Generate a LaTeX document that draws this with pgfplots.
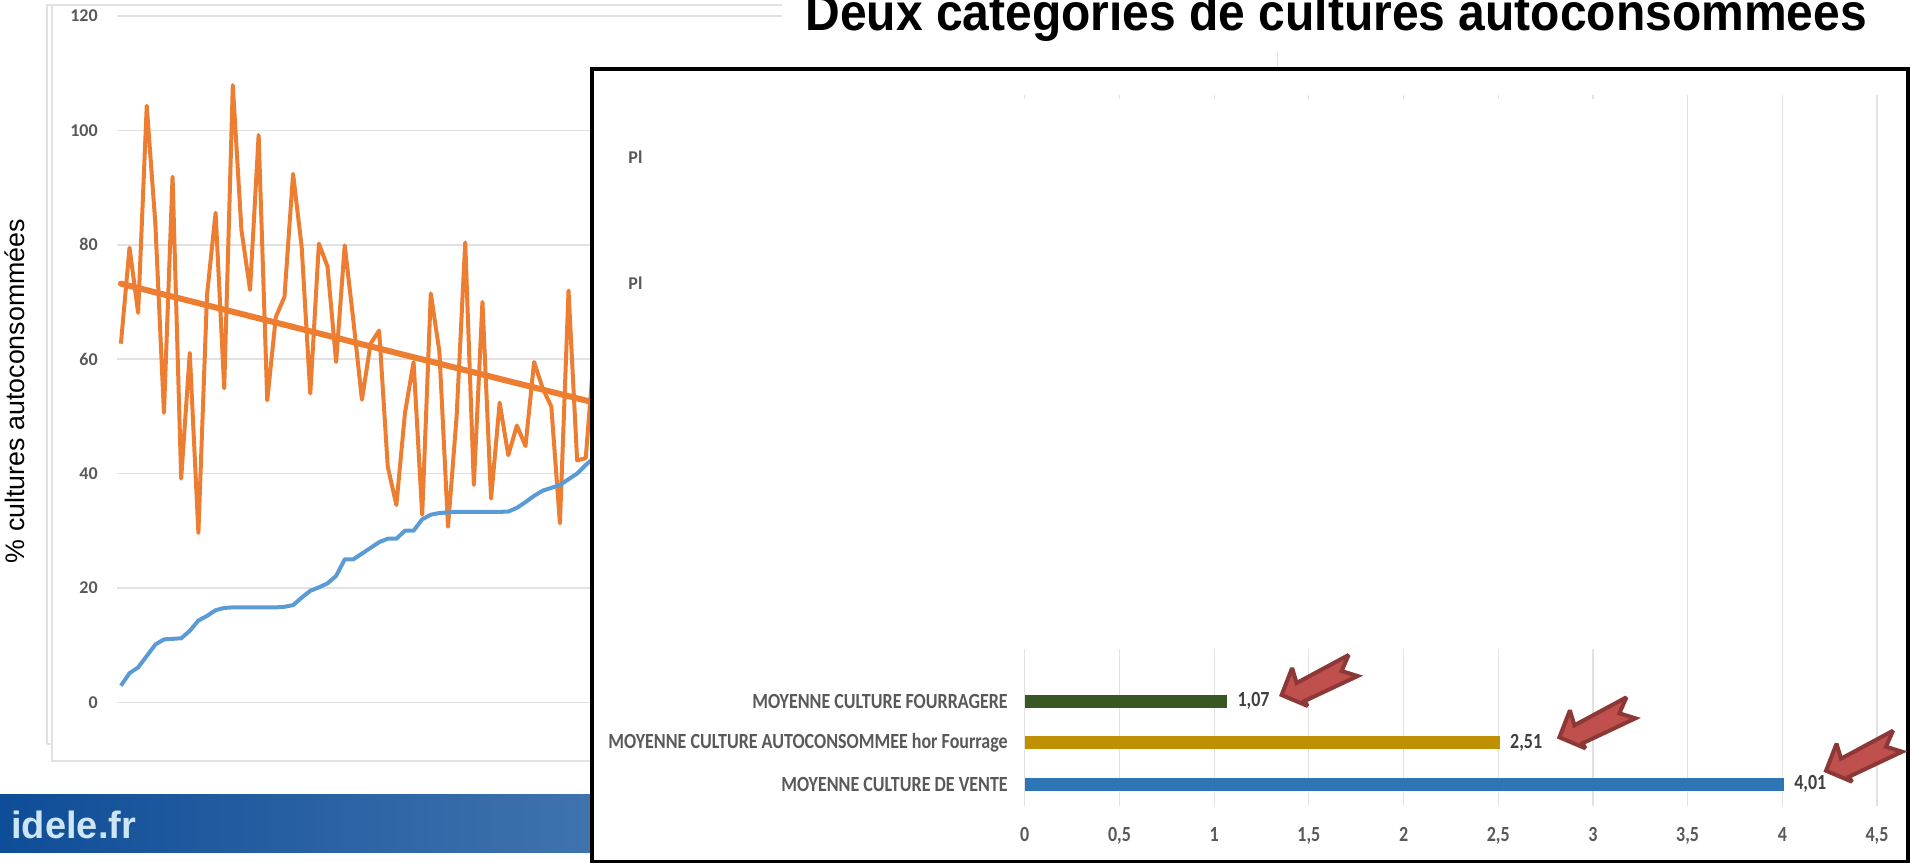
\documentclass[border=0pt]{standalone}
\usepackage{pgfplots}
\pgfplotsset{compat=1.18}
\usepackage{pgfplotstable}
\usepackage{fontspec}
\setmainfont{Liberation Sans}
\newfontfamily\carlito{Carlito}
\definecolor{gridc}{HTML}{E2E2E2}
\definecolor{txt}{HTML}{595959}
\definecolor{oran}{HTML}{ED7D31}
\definecolor{blu}{HTML}{5B9BD5}
\pgfplotstableread{
i v
0 62.7
1 79.5
2 68.1
3 104.3
4 83.7
5 50.6
6 91.9
7 39.1
8 61.1
9 29.6
10 71.2
11 85.6
12 54.9
13 107.9
14 82.6
15 72.1
16 99.2
17 52.8
18 67.4
19 70.9
20 92.4
21 79.6
22 54
23 80.2
24 76.2
25 59.5
26 79.9
27 66.8
28 52.9
29 62.7
30 65
31 41.2
32 34.5
33 50.6
34 59.5
35 32.8
36 71.5
37 61.3
38 30.7
39 50
40 80.4
41 38
42 70
43 35.6
44 52.4
45 43.2
46 48.4
47 44.8
48 59.5
49 54.9
50 51.7
51 31.3
52 72
53 42.3
54 42.7
55 62
}\orangedata
\pgfplotstableread{
i v
0 2.9
1 5.1
2 6.1
3 8.1
4 10.1
5 11
6 11.1
7 11.2
8 12.5
9 14.3
10 15.1
11 16.1
12 16.5
13 16.6
14 16.6
15 16.6
16 16.6
17 16.6
18 16.6
19 16.7
20 17
21 18.3
22 19.5
23 20.1
24 20.8
25 22.1
26 25
27 25
28 26
29 27
30 28
31 28.6
32 28.6
33 30
34 30
35 32
36 32.8
37 33.1
38 33.2
39 33.3
40 33.3
41 33.3
42 33.3
43 33.3
44 33.3
45 33.35
46 34
47 35
48 36.1
49 37
50 37.5
51 38
52 39
53 40
54 41.5
55 42.8
}\bluedata
\newcommand\ArrowAt[2]{%
  \filldraw[shift={(#1,#2)},fill={rgb,255:red,192;green,80;blue,77},
    draw={rgb,255:red,140;green,56;blue,54},line width=2pt,miter limit=3]
  (3,-1) -- (13.5,-28) -- (18,-13) -- (70,-41) -- (63,-25) -- (79,-20) -- (26,5) -- (29,10) -- cycle;}
\begin{document}
\begin{tikzpicture}
\path[use as bounding box] (0,0) rectangle (955pt,-431pt);
\begin{pgfinterruptboundingbox}
\clip (0,0) rectangle (955pt,-432pt);
\begin{scope}[x=0.5pt,y=-0.5pt]
  % left frames
  \draw[gridc,line width=1pt] (46.7,744) -- (46.7,5) -- (782,5);
  \draw[gridc,line width=1pt] (46.7,744) -- (52.4,744);
  \draw[gridc,line width=1pt] (52.4,5) -- (52.4,761) -- (600,761);
  % banner
  \shade[left color={rgb,255:red,14;green,77;blue,151},right color={rgb,255:red,64;green,115;blue,174}] (0,794) rectangle (592,852);
  \node[anchor=base west,inner sep=0pt,text={rgb,255:red,205;green,230;blue,245}] at (11,838) {\fontsize{19}{20}\selectfont\bfseries idele.fr};
\end{scope}
\begin{axis}[
  at={(58.35pt,-351.15pt)},anchor=south west,
  scale only axis,width=332.65pt,height=343.15pt,
  xmin=-0.49,xmax=76.8,ymin=0,ymax=120,
  axis line style={draw=none},
  xtick=\empty,
  ytick={0,20,40,60,80,100,120},
  ymajorgrids,
  major grid style={gridc,line width=0.8pt},
  tick style={draw=none},
  tick label style={font=\carlito\bfseries\fontsize{9}{10}\selectfont,text=txt},
  /pgf/number format/assume math mode=true,
  ylabel={\% cultures autoconsommées},
  every axis y label/.style={at={(axis description cs:-0.1529,0.4536)},rotate=90,anchor=center,font=\fontsize{13.4}{15}\selectfont,text=black},
  yticklabel style={anchor=east,xshift=-6pt},
]
\addplot[oran,line width=2pt,line join=round] table[x=i,y=v] {\orangedata};
\addplot[blu,line width=2pt,line join=round] table[x=i,y=v] {\bluedata};
\addplot[oran,line width=3pt,line cap=round] coordinates {(0,73.2) (55,52.4)};
\end{axis}
\begin{scope}[x=0.5pt,y=-0.5pt]
  \node[anchor=base west,inner sep=0pt] at (805,30) {\scalebox{0.923}[1]{\fontsize{26}{28}\selectfont\bfseries Deux catégories de cultures autoconsommées}};
  \draw[gridc,line width=0.5pt] (1277,52) -- (1277,68);
  \draw[black,fill=white,line width=1.7pt] (592,69) rectangle (1908,862);
\end{scope}
\begin{axis}[
  at={(512.4pt,-403pt)},anchor=south west,
  scale only axis,width=426.1pt,height=355.5pt,
  xmin=0,xmax=4.5,ymin=-0.523,ymax=16.6,
  clip=false,
  axis line style={draw=none},
  xtick={0,0.5,1,1.5,2,2.5,3,3.5,4,4.5},
  xticklabels={0,{0,5},1,{1,5},2,{2,5},3,{3,5},4,{4,5}},
  ytick={0,1,2},
  yticklabels={MOYENNE CULTURE DE VENTE,MOYENNE CULTURE AUTOCONSOMMEE hor Fourrage,MOYENNE CULTURE FOURRAGERE},
  xmajorgrids=true,ymajorgrids=false,
  major grid style={gridc,line width=0.6pt},
  tick style={draw=none},
  tick label style={font=\carlito\bfseries\fontsize{9}{10}\selectfont,text=txt},
  yticklabel style={anchor=east,xshift=-5pt,yscale=1.2,transform shape},
  xticklabel style={anchor=base,yshift=-17.5pt,yscale=1.2,transform shape},
  nodes near coords style={font=\carlito\bfseries\fontsize{9}{10}\selectfont,text={rgb,255:red,64;green,64;blue,64},anchor=west,xshift=1.5pt,yscale=1.2,transform shape},
]
\fill[white] (axis cs:-0.05,3.26) rectangle (axis cs:3.25,16.51);
\addplot[xbar,bar width=6.5pt,bar shift=0pt,draw=none,fill={rgb,255:red,46;green,117;blue,182},
  nodes near coords,/pgf/number format/.cd,fixed,fixed zerofill,precision=2,use comma,assume math mode=true]
  coordinates {(4.01,0)};
\addplot[xbar,bar width=6.5pt,bar shift=0pt,draw=none,fill={rgb,255:red,191;green,144;blue,0},
  nodes near coords,/pgf/number format/.cd,fixed,fixed zerofill,precision=2,use comma,assume math mode=true]
  coordinates {(2.51,1)};
\addplot[xbar,bar width=6.5pt,bar shift=0pt,draw=none,fill={rgb,255:red,56;green,87;blue,35},
  nodes near coords,/pgf/number format/.cd,fixed,fixed zerofill,precision=2,use comma,assume math mode=true]
  coordinates {(1.07,2)};
\node[anchor=west,inner sep=0pt,font=\carlito\bfseries\fontsize{9}{10}\selectfont,text=txt] at (axis cs:-2.095,12.08) {Pl};
\node[anchor=west,inner sep=0pt,font=\carlito\bfseries\fontsize{9}{10}\selectfont,text=txt] at (axis cs:-2.095,15.1) {Pl};
\end{axis}
\begin{scope}[x=0.5pt,y=-0.5pt]
  \ArrowAt{1278.6}{696}
  \ArrowAt{1556.4}{738.3}
  \ArrowAt{1823}{771.7}
\end{scope}
\end{pgfinterruptboundingbox}
\end{tikzpicture}
\end{document}
